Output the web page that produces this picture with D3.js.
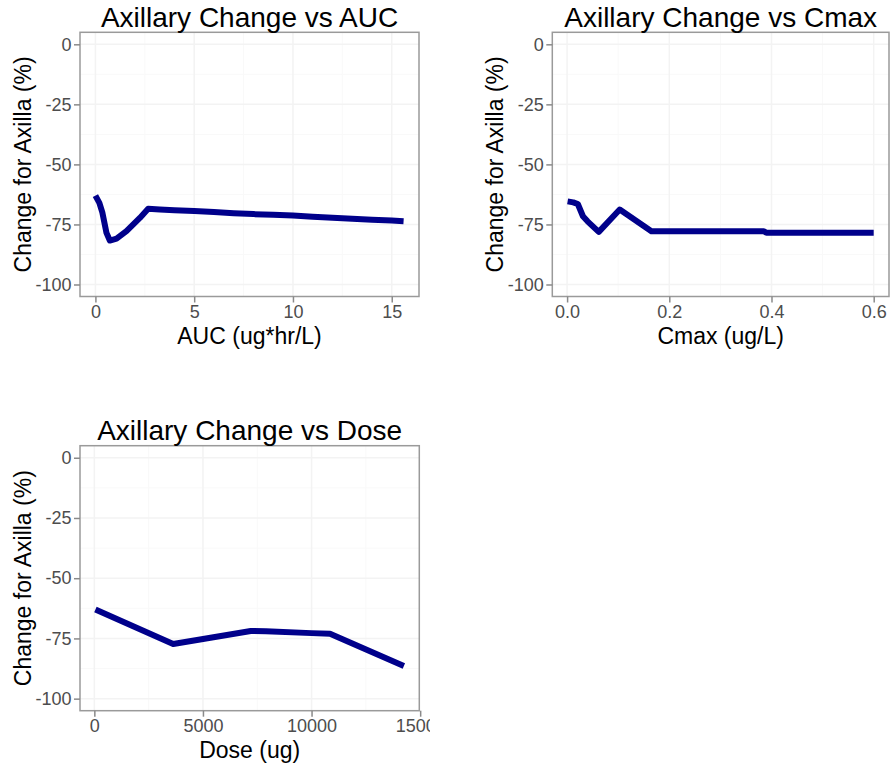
<!DOCTYPE html>
<html>
<head>
<meta charset="utf-8">
<script src="https://cdn.jsdelivr.net/npm/d3@7"></script>
<style>
  body { margin: 0; background: #fff; }
  svg { display: block; font-family: "Liberation Sans", Arial, sans-serif; }
</style>
</head>
<body>
<div id="chart"></div>
<script>
// Axillary change curves
const aucX = [0, 0.2, 0.35, 0.56, 0.73, 1.07, 1.57, 2.25, 2.67, 3.26, 4, 5, 6, 7, 8, 9, 10, 11, 12, 13, 14, 15, 15.6];
const aucY = [-63, -66, -70, -78.5, -81.7, -80.9, -77.8, -72.3, -68.5, -68.8, -69.1, -69.4, -69.8, -70.3, -70.7, -71.0, -71.3, -71.8, -72.2, -72.6, -73.0, -73.4, -73.7];

const cmaxX = [0.001, 0.012, 0.021, 0.031, 0.04, 0.062, 0.103, 0.165, 0.385, 0.39, 0.6];
const cmaxY = [-65.4, -65.8, -66.5, -71.6, -73.7, -78.1, -68.8, -77.8, -77.8, -78.5, -78.5];

const doseX = [50, 3630, 7200, 7900, 10000, 10850, 14250];
const doseY = [-63, -77.3, -71.9, -72, -72.8, -73.1, -86.4];

const yTicks = [0, -25, -50, -75, -100];
const yMinor = [-12.5, -37.5, -62.5, -87.5];
const aucTicks = [0, 5, 10, 15];
const cmaxTicks = [0, 0.2, 0.4, 0.6];
const doseTicks = [0, 5000, 10000, 15000];

const width = 891, height = 769;
const lineColor = "#00008B";

const svg = d3.select("#chart").append("svg")
    .attr("width", width)
    .attr("height", height);

const defs = svg.append("defs");

// one ggplot-like panel
function drawPanel(opt) {
    const { id, box, xs, ys, ticks, fmt, title, xTitle, clip } = opt;

    defs.append("clipPath").attr("id", "cell-" + id)
        .append("rect")
        .attr("x", clip[0]).attr("y", clip[1])
        .attr("width", clip[2]).attr("height", clip[3]);

    const g = svg.append("g").attr("clip-path", `url(#cell-${id})`);

    // 5% expansion like ggplot
    const ext = d3.extent(xs);
    const pad = (ext[1] - ext[0]) * 0.05;
    const x = d3.scaleLinear()
        .domain([ext[0] - pad, ext[1] + pad])
        .range([box.left, box.right]);
    const y = d3.scaleLinear()
        .domain([-105, 5])
        .range([box.bottom, box.top]);

    const step = ticks[1] - ticks[0];
    const xMinor = ticks.slice(0, -1).map(t => t + step / 2);

    const grid = g.append("g");
    grid.selectAll(".ymin").data(yMinor).join("line")
        .attr("x1", box.left).attr("x2", box.right)
        .attr("y1", d => y(d)).attr("y2", d => y(d))
        .attr("stroke", "#f9f9f9").attr("stroke-width", 1);
    grid.selectAll(".xmin").data(xMinor).join("line")
        .attr("y1", box.top).attr("y2", box.bottom)
        .attr("x1", d => x(d)).attr("x2", d => x(d))
        .attr("stroke", "#f9f9f9").attr("stroke-width", 1);
    grid.selectAll(".ymaj").data(yTicks).join("line")
        .attr("x1", box.left).attr("x2", box.right)
        .attr("y1", d => y(d)).attr("y2", d => y(d))
        .attr("stroke", "#f3f3f3").attr("stroke-width", 1.5);
    grid.selectAll(".xmaj").data(ticks.filter(t => x(t) < box.right - 1)).join("line")
        .attr("y1", box.top).attr("y2", box.bottom)
        .attr("x1", d => x(d)).attr("x2", d => x(d))
        .attr("stroke", "#f3f3f3").attr("stroke-width", 1.5);

    // the curve
    const pts = xs.map((v, i) => [v, ys[i]]);
    g.append("path")
        .datum(pts)
        .attr("fill", "none")
        .attr("stroke", lineColor)
        .attr("stroke-width", 6)
        .attr("stroke-linejoin", "round")
        .attr("d", d3.line().x(d => x(d[0])).y(d => y(d[1])));

    // border
    g.append("rect")
        .attr("x", box.left).attr("y", box.top)
        .attr("width", box.right - box.left)
        .attr("height", box.bottom - box.top)
        .attr("fill", "none")
        .attr("stroke", "#9a9a9a")
        .attr("stroke-width", 1.5);

    // axes (plain hyphen minus, as in R)
    const yAxis = g.append("g")
        .attr("transform", `translate(${box.left},0)`)
        .call(d3.axisLeft(y).tickValues(yTicks).tickFormat(d => String(d)).tickSize(6).tickPadding(2.5));
    const xAxis = g.append("g")
        .attr("transform", `translate(0,${box.bottom})`)
        .call(d3.axisBottom(x).tickValues(ticks).tickFormat(fmt).tickSize(6).tickPadding(3));

    [yAxis, xAxis].forEach(a => {
        a.select(".domain").remove();
        a.selectAll(".tick line").attr("stroke", "#8a8a8a").attr("stroke-width", 1.5);
        a.selectAll(".tick text")
            .attr("fill", "#4d4d4d")
            .attr("font-size", "18px")
            .attr("font-family", "Liberation Sans, Arial, sans-serif");
    });

    const cx = (box.left + box.right) / 2;
    const cy = (box.top + box.bottom) / 2;

    g.append("text")
        .attr("x", cx).attr("y", box.top - 5.5)
        .attr("text-anchor", "middle")
        .attr("font-size", "28px")
        .attr("fill", "#000")
        .text(title);

    g.append("text")
        .attr("x", cx).attr("y", box.bottom + 47.5)
        .attr("text-anchor", "middle")
        .attr("font-size", "23px")
        .attr("fill", "#000")
        .text(xTitle);

    g.append("text")
        .attr("transform", `translate(${box.left - 49},${cy}) rotate(-90)`)
        .attr("text-anchor", "middle")
        .attr("font-size", "23px")
        .attr("fill", "#000")
        .text("Change for Axilla (%)");
}

drawPanel({
    id: "auc",
    box: { left: 80, right: 419, top: 32.3, bottom: 296.5 },
    xs: aucX, ys: aucY, ticks: aucTicks, fmt: d3.format("d"),
    title: "Axillary Change vs AUC", xTitle: "AUC (ug*hr/L)",
    clip: [0, 0, 440, 400]
});

drawPanel({
    id: "cmax",
    box: { left: 552.3, right: 889, top: 32.3, bottom: 296.5 },
    xs: cmaxX, ys: cmaxY, ticks: cmaxTicks, fmt: d3.format(".1f"),
    title: "Axillary Change vs Cmax", xTitle: "Cmax (ug/L)",
    clip: [440, 0, 451, 400]
});

drawPanel({
    id: "dose",
    box: { left: 80, right: 419.3, top: 445.7, bottom: 710.7 },
    xs: doseX, ys: doseY, ticks: doseTicks, fmt: d3.format("d"),
    title: "Axillary Change vs Dose", xTitle: "Dose (ug)",
    clip: [0, 400, 430, 369]
});
</script>
</body>
</html>
